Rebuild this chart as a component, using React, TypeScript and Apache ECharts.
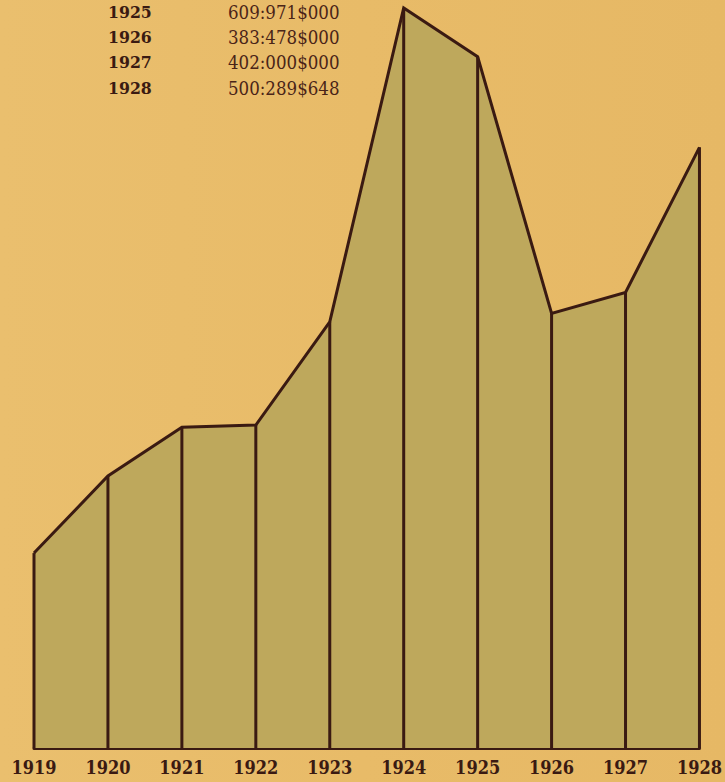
import React, { useEffect, useRef } from "react";
import * as echarts from "echarts";

// Years on the horizontal axis
const years = ["1919", "1920", "1921", "1922", "1923", "1924", "1925", "1926", "1927", "1928"];
// Plotted values (millions of réis)
const values = [172, 240, 283, 285, 376, 653, 609.971, 383.478, 402.0, 530];
// Table printed at the top left
const tableYears = ["1925", "1926", "1927", "1928"];
const tableValues = ["609:971$000", "383:478$000", "402:000$000", "500:289$648"];

const INK = "#3a1a12";
const BG = "#e8b966";
const FILL = "#bea85c";
const SERIF = "'DejaVu Serif Condensed', 'DejaVu Serif', serif";

export default function App() {
  const ref = useRef<HTMLDivElement>(null);
  useEffect(() => {
    if (!ref.current) return;
    const chart = echarts.init(ref.current, null, { renderer: "svg" });
    const rowY = [13, 38, 63, 89];
    const graphics: any[] = [];
    tableYears.forEach((y, i) => {
      graphics.push({
        type: "text",
        left: 108,
        top: rowY[i] - 10,
        style: { text: y, fill: INK, font: "bold 17.5px " + SERIF },
      });
      graphics.push({
        type: "text",
        left: 228,
        top: rowY[i] - 10,
        style: { text: tableValues[i], fill: "#4a2418", font: "18.5px " + SERIF },
      });
    });
    graphics.push({
      type: "text",
      left: 643,
      top: 727,
      style: { text: "O.M.M.", fill: INK, font: "bold 12px 'DejaVu Sans'" },
    });
    chart.setOption({
      animation: false,
      backgroundColor: {
        type: "linear",
        x: 0,
        y: 0,
        x2: 1,
        y2: 0,
        colorStops: [
          { offset: 0, color: "#eabf6e" },
          { offset: 0.5, color: "#e8bb68" },
          { offset: 1, color: "#e6b865" },
        ],
      },
      grid: { left: 34, right: 23, top: 0, bottom: 34, containLabel: false },
      xAxis: {
        type: "category",
        data: years,
        boundaryGap: false,
        axisLine: { show: true, lineStyle: { color: INK, width: 3 } },
        axisTick: { show: false },
        axisLabel: {
          color: INK,
          fontFamily: SERIF,
          fontWeight: "bold",
          fontSize: 18,
          margin: 10,
          interval: 0,
        },
        splitLine: { show: false },
      },
      yAxis: {
        type: "value",
        min: 0,
        max: 660,
        show: false,
        splitLine: { show: false },
      },
      series: [
        {
          type: "line",
          data: values,
          showSymbol: false,
          clip: false,
          z: 1,
          lineStyle: { color: INK, width: 3, join: "miter" },
          areaStyle: { color: FILL, opacity: 1 },
        },
        {
          type: "bar",
          data: values,
          barWidth: 3,
          z: 2,
          itemStyle: { color: INK },
        },
      ],
      graphic: graphics,
    });
    return () => chart.dispose();
  }, []);
  return (
    <div
      ref={ref}
      style={{ position: "fixed", left: 0, top: 0, width: 725, height: 782, background: BG }}
    />
  );
}
